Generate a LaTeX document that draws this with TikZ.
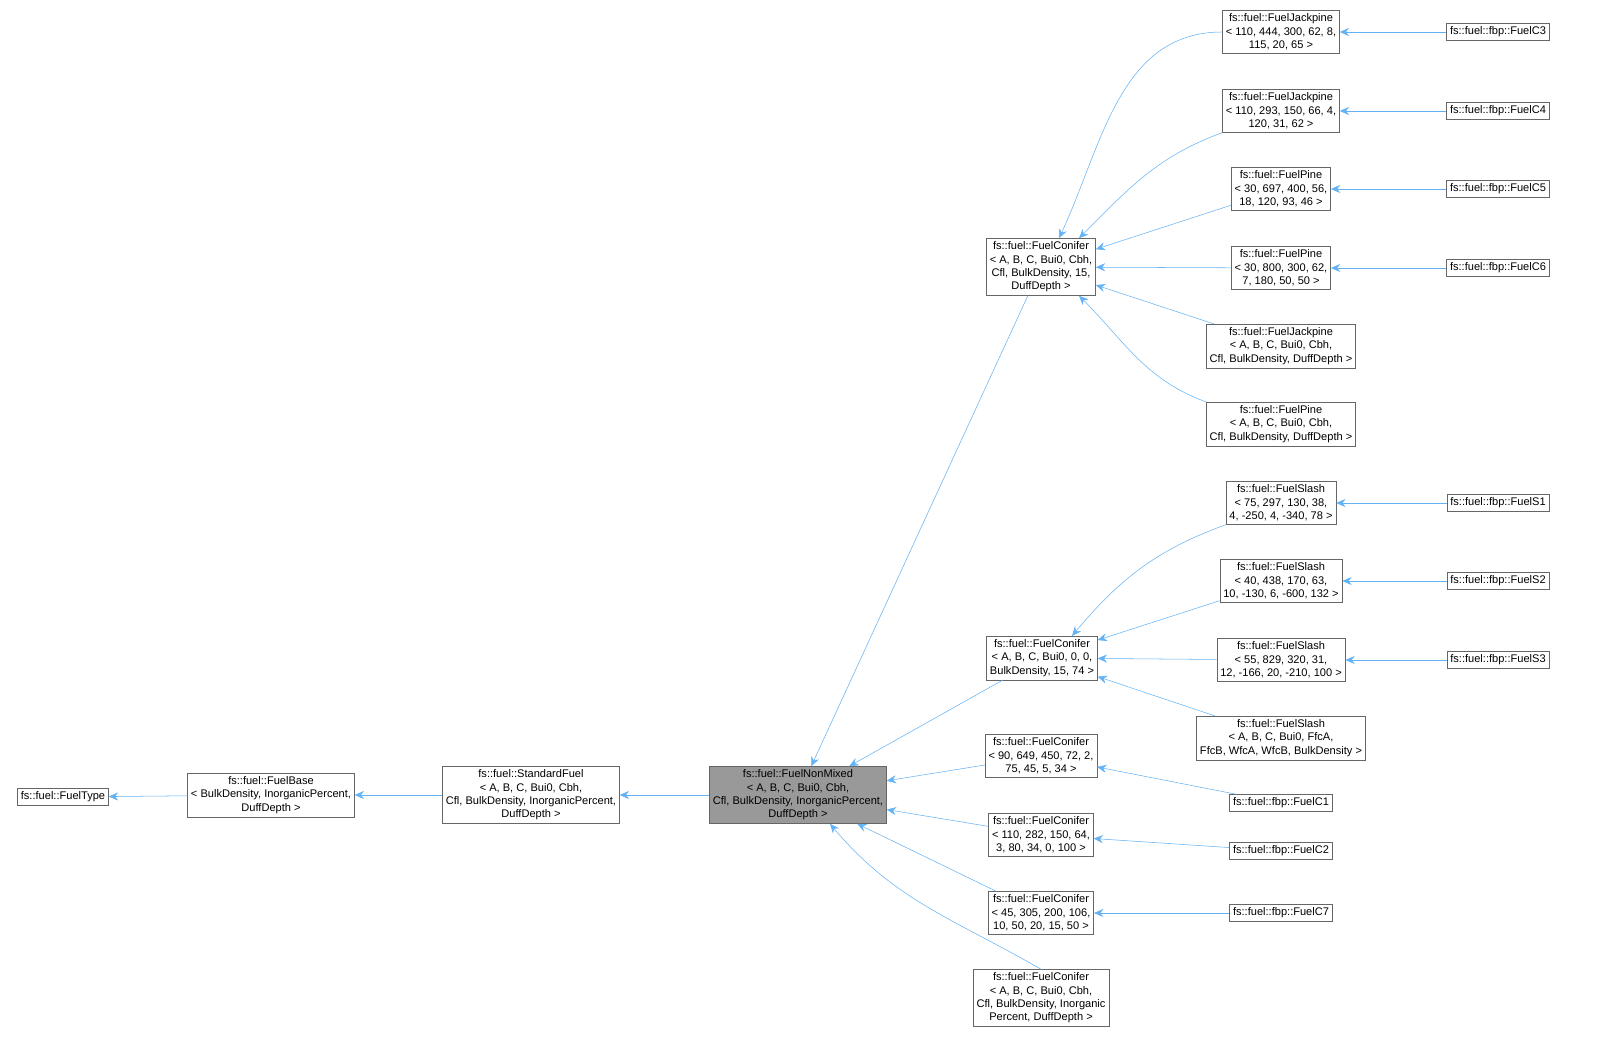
\documentclass[tikz,border=0pt]{standalone}
\usepackage{fontspec}
\setmainfont{Liberation Sans}
\usetikzlibrary{arrows.meta, positioning}
\definecolor{edgeblue}{HTML}{63B2F5}
\definecolor{hlgray}{HTML}{999999}
\tikzstyle{cls} = [rectangle, draw=black!60, fill=white, align=center, font=\fontsize{8.3}{10}\selectfont, inner sep=2.5pt]
\tikzstyle{clshl} = [cls, fill=hlgray]
\tikzstyle{edge} = [edgeblue, thin, {Stealth[length=7pt,width=6pt]}-]
\begin{document}
\begin{tikzpicture}[x=0.75pt, y=-0.75pt]
		\useasboundingbox (0,0) rectangle (1599,1059);
		\node (FuelType) [cls] at (63,797) {fs::fuel::FuelType};
		\node (FuelBase) [cls] at (271,795) {fs::fuel::FuelBase\\{<} BulkDensity, InorganicPercent,\\DuffDepth {>}};
		\node (Standard) [cls] at (531,795) {fs::fuel::StandardFuel\\{<} A, B, C, Bui0, Cbh,\\Cfl, BulkDensity, InorganicPercent,\\DuffDepth {>}};
		\node (NonMixed) [clshl] at (798,795) {fs::fuel::FuelNonMixed\\{<} A, B, C, Bui0, Cbh,\\Cfl, BulkDensity, InorganicPercent,\\DuffDepth {>}};

		\node (ConiferA) [cls] at (1041,267) {fs::fuel::FuelConifer\\{<} A, B, C, Bui0, Cbh,\\Cfl, BulkDensity, 15,\\DuffDepth {>}};
		\node (ConiferB) [cls] at (1042,658) {fs::fuel::FuelConifer\\{<} A, B, C, Bui0, 0, 0,\\BulkDensity, 15, 74 {>}};
		\node (ConiferC) [cls] at (1041,756) {fs::fuel::FuelConifer\\{<} 90, 649, 450, 72, 2,\\75, 45, 5, 34 {>}};
		\node (ConiferD) [cls] at (1041,835) {fs::fuel::FuelConifer\\{<} 110, 282, 150, 64,\\3, 80, 34, 0, 100 {>}};
		\node (ConiferE) [cls] at (1041,913) {fs::fuel::FuelConifer\\{<} 45, 305, 200, 106,\\10, 50, 20, 15, 50 {>}};
		\node (ConiferF) [cls] at (1041,998) {fs::fuel::FuelConifer\\{<} A, B, C, Bui0, Cbh,\\Cfl, BulkDensity, Inorganic\\Percent, DuffDepth {>}};

		\node (JackA) [cls] at (1281,32) {fs::fuel::FuelJackpine\\{<} 110, 444, 300, 62, 8,\\115, 20, 65 {>}};
		\node (JackB) [cls] at (1281,111) {fs::fuel::FuelJackpine\\{<} 110, 293, 150, 66, 4,\\120, 31, 62 {>}};
		\node (PineA) [cls] at (1281,189) {fs::fuel::FuelPine\\{<} 30, 697, 400, 56,\\18, 120, 93, 46 {>}};
		\node (PineB) [cls] at (1281,268) {fs::fuel::FuelPine\\{<} 30, 800, 300, 62,\\7, 180, 50, 50 {>}};
		\node (JackC) [cls] at (1281,346) {fs::fuel::FuelJackpine\\{<} A, B, C, Bui0, Cbh,\\Cfl, BulkDensity, DuffDepth {>}};
		\node (PineC) [cls] at (1281,424) {fs::fuel::FuelPine\\{<} A, B, C, Bui0, Cbh,\\Cfl, BulkDensity, DuffDepth {>}};
		\node (SlashA) [cls] at (1281,503) {fs::fuel::FuelSlash\\{<} 75, 297, 130, 38,\\4, -250, 4, -340, 78 {>}};
		\node (SlashB) [cls] at (1281,581) {fs::fuel::FuelSlash\\{<} 40, 438, 170, 63,\\10, -130, 6, -600, 132 {>}};
		\node (SlashC) [cls] at (1281,660) {fs::fuel::FuelSlash\\{<} 55, 829, 320, 31,\\12, -166, 20, -210, 100 {>}};
		\node (SlashD) [cls] at (1281,738) {fs::fuel::FuelSlash\\{<} A, B, C, Bui0, FfcA,\\FfcB, WfcA, WfcB, BulkDensity {>}};
		\node (FbpC1) [cls] at (1281,803) {fs::fuel::fbp::FuelC1};
		\node (FbpC2) [cls] at (1281,851) {fs::fuel::fbp::FuelC2};
		\node (FbpC7) [cls] at (1281,913) {fs::fuel::fbp::FuelC7};

		\node (FbpC3) [cls] at (1498,32) {fs::fuel::fbp::FuelC3};
		\node (FbpC4) [cls] at (1498,111) {fs::fuel::fbp::FuelC4};
		\node (FbpC5) [cls] at (1498,189) {fs::fuel::fbp::FuelC5};
		\node (FbpC6) [cls] at (1498,268) {fs::fuel::fbp::FuelC6};
		\node (FbpS1) [cls] at (1498,503) {fs::fuel::fbp::FuelS1};
		\node (FbpS2) [cls] at (1498,581) {fs::fuel::fbp::FuelS2};
		\node (FbpS3) [cls] at (1498,660) {fs::fuel::fbp::FuelS3};

		\draw [edge] (FuelType) -- (FuelBase);
		\draw [edge] (FuelBase) -- (Standard);
		\draw [edge] (Standard) -- (NonMixed);
		\draw [edge] (NonMixed) -- (ConiferA);
		\draw [edge] (NonMixed) -- (ConiferB);
		\draw [edge] (NonMixed) -- (ConiferC);
		\draw [edge] (NonMixed) -- (ConiferD);
		\draw [edge] (NonMixed) -- (ConiferE);
		\draw [edge] (NonMixed.south) ++(32,0) to[out=-50,in=150] (ConiferF.north);

		\draw [edge] (ConiferA.north) ++(18,0) to[out=65,in=180] (JackA.west);
		\draw [edge] (ConiferA.north) ++(38,0) to[out=45,in=200] (JackB.south west);
		\draw [edge] (ConiferA) -- (PineA);
		\draw [edge] (ConiferA) -- (PineB);
		\draw [edge] (ConiferA) -- (JackC);
		\draw [edge] (ConiferA.south) ++(38,0) to[out=-45,in=160] (PineC.north west);

		\draw [edge] (ConiferB.north) ++(30,0) to[out=50,in=200] (SlashA.south west);
		\draw [edge] (ConiferB) -- (SlashB);
		\draw [edge] (ConiferB) -- (SlashC);
		\draw [edge] (ConiferB) -- (SlashD);
		\draw [edge] (ConiferC) -- (FbpC1);
		\draw [edge] (ConiferD) -- (FbpC2);
		\draw [edge] (ConiferE) -- (FbpC7);

		\draw [edge] (JackA) -- (FbpC3);
		\draw [edge] (JackB) -- (FbpC4);
		\draw [edge] (PineA) -- (FbpC5);
		\draw [edge] (PineB) -- (FbpC6);
		\draw [edge] (SlashA) -- (FbpS1);
		\draw [edge] (SlashB) -- (FbpS2);
		\draw [edge] (SlashC) -- (FbpS3);
	\end{tikzpicture}
\end{document}
